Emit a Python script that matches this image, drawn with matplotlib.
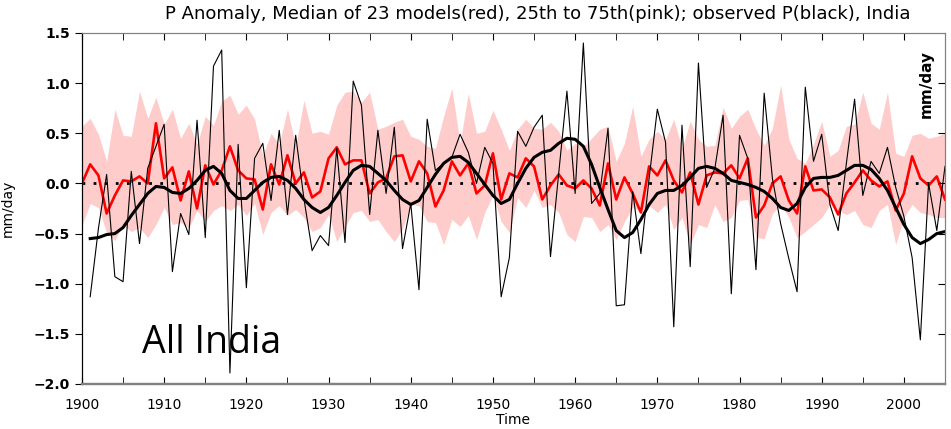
import numpy as np
import matplotlib.pyplot as plt

# anni
anni_modelli = np.arange(1900, 2006)
anni_oss = np.arange(1901, 2006)

# mediana dei 23 modelli (rosso)
mediana = [0.0, 0.19, 0.08, -0.3, -0.12, 0.03, 0.02, 0.07, 0.0, 0.6,
           0.05, 0.16, -0.17, 0.12, -0.25, 0.18, -0.01, 0.13, 0.37, 0.13,
           0.05, 0.04, -0.26, 0.19, -0.01, 0.28, 0.0, 0.11, -0.14, -0.08,
           0.25, 0.36, 0.19, 0.23, 0.23, -0.1, 0.01, 0.05, 0.27, 0.28,
           0.02, 0.22, 0.1, -0.23, -0.07, 0.22, 0.08, 0.2, -0.1, -0.02,
           0.3, -0.16, 0.1, 0.06, 0.25, 0.17, -0.16, -0.02, 0.09, -0.02,
           -0.05, 0.03, -0.05, -0.22, 0.2, -0.16, 0.06, -0.1, -0.29, 0.17,
           0.08, 0.23, 0.03, -0.09, 0.11, -0.21, 0.08, 0.11, 0.1, 0.18,
           0.05, 0.25, -0.34, -0.22, 0.0, 0.07, -0.17, -0.3, 0.17, -0.07,
           -0.06, -0.14, -0.31, -0.1, 0.01, 0.13, 0.03, -0.03, 0.02, -0.27,
           -0.1, 0.27, 0.05, -0.02, 0.07, -0.16]

# 75esimo percentile (bordo superiore rosa)
p75 = [0.57, 0.65, 0.49, 0.22, 0.74, 0.48, 0.47, 0.92, 0.65, 0.86,
       0.59, 0.74, 0.45, 0.6, 0.39, 0.67, 0.58, 0.82, 0.88, 0.69,
       0.78, 0.64, 0.28, 0.5, 0.39, 0.74, 0.37, 0.83, 0.5, 0.52,
       0.49, 0.78, 0.91, 0.92, 0.81, 0.91, 0.54, 0.57, 0.61, 0.64,
       0.47, 0.44, 0.37, 0.35, 0.67, 0.95, 0.4, 0.9, 0.5, 0.52,
       0.73, 0.54, 0.33, 0.54, 0.64, 0.55, 0.54, 0.61, 0.52, 0.33,
       0.4, 0.37, 0.45, 0.54, 0.57, 0.22, 0.4, 0.77, 0.27, 0.44,
       0.52, 0.44, 0.64, 0.35, 0.62, 0.44, 0.37, 0.38, 0.76, 0.55,
       0.67, 0.74, 0.54, 0.38, 0.55, 0.98, 0.44, 0.25, 0.2, 0.39,
       0.62, 0.27, 0.33, 0.57, 0.59, 0.91, 0.6, 0.54, 0.91, 0.3,
       0.27, 0.48, 0.5, 0.45, 0.47, 0.5]

# 25esimo percentile (bordo inferiore rosa)
p25 = [-0.42, -0.2, -0.24, -0.49, -0.57, -0.41, -0.48, -0.44, -0.54, -0.41,
       -0.24, -0.41, -0.39, -0.44, -0.27, -0.38, -0.27, -0.22, -0.27, -0.21,
       -0.32, -0.2, -0.51, -0.29, -0.22, -0.32, -0.26, -0.34, -0.48, -0.44,
       -0.31, -0.58, -0.43, -0.29, -0.27, -0.38, -0.36, -0.48, -0.58, -0.45,
       -0.21, -0.22, -0.38, -0.39, -0.61, -0.36, -0.43, -0.32, -0.56, -0.29,
       -0.12, -0.38, -0.49, -0.14, -0.24, -0.07, -0.24, -0.21, -0.29, -0.51,
       -0.58, -0.33, -0.34, -0.48, -0.41, -0.56, -0.38, -0.24, -0.27, -0.22,
       -0.29, -0.21, -0.46, -0.34, -0.61, -0.41, -0.44, -0.21, -0.38, -0.34,
       -0.17, -0.16, -0.54, -0.55, -0.3, -0.21, -0.34, -0.54, -0.48, -0.41,
       -0.34, -0.21, -0.27, -0.31, -0.27, -0.41, -0.44, -0.27, -0.21, -0.61,
       -0.34, -0.21, -0.29, -0.31, -0.34, -0.34]

# P osservata (nero sottile)
osservata = [-1.13, -0.45, 0.09, -0.93, -0.98, 0.12, -0.6, 0.15, 0.37, 0.59,
             -0.88, -0.3, -0.51, 0.63, -0.54, 1.17, 1.33, -1.89, 0.39, -1.04,
             0.25, 0.4, -0.17, 0.53, -0.31, 0.48, -0.15, -0.67, -0.52, -0.62,
             0.35, -0.59, 1.02, 0.78, -0.31, 0.53, -0.1, 0.56, -0.65, -0.2,
             -1.06, 0.64, 0.13, 0.2, 0.26, 0.49, 0.31, 0.0, 0.36, 0.2,
             -1.13, -0.74, 0.52, 0.37, 0.56, 0.68, -0.73, 0.1, 0.92, -0.1,
             1.4, -0.2, -0.1, 0.55, -1.22, -1.21, -0.08, -0.7, 0.05, 0.74,
             0.41, -1.43, 0.58, -0.83, 1.2, -0.04, 0.15, 0.68, -1.1, 0.48,
             0.25, -0.86, 0.9, 0.05, -0.4, -0.75, -1.08, 0.96, 0.22, 0.49,
             -0.21, -0.47, 0.2, 0.84, -0.12, 0.22, 0.1, 0.36, -0.04, -0.33,
             -0.74, -1.56, 0.0, -0.47, 0.17]

# P osservata smussata (nero spesso)
smussata = [-0.55, -0.54, -0.51, -0.5, -0.44, -0.32, -0.21, -0.1, -0.03, -0.04,
            -0.09, -0.1, -0.05, 0.03, 0.13, 0.17, 0.1, -0.07, -0.15, -0.15,
            -0.07, 0.01, 0.06, 0.07, 0.03, -0.05, -0.16, -0.24, -0.29, -0.24,
            -0.12, 0.01, 0.13, 0.18, 0.17, 0.1, 0.03, -0.07, -0.16, -0.21,
            -0.17, -0.04, 0.09, 0.2, 0.26, 0.27, 0.21, 0.1, -0.01, -0.12,
            -0.2, -0.16, 0.0, 0.15, 0.26, 0.31, 0.33, 0.4, 0.45, 0.44,
            0.37, 0.19, -0.04, -0.26, -0.47, -0.54, -0.49, -0.36, -0.21, -0.1,
            -0.07, -0.07, -0.02, 0.06, 0.15, 0.17, 0.15, 0.1, 0.03, 0.01,
            -0.01, -0.04, -0.08, -0.15, -0.24, -0.27, -0.2, -0.04, 0.05, 0.06,
            0.06, 0.08, 0.13, 0.18, 0.18, 0.14, 0.05, -0.07, -0.24, -0.41,
            -0.54, -0.6, -0.56, -0.5, -0.48]

fig = plt.figure(figsize=(9.51, 4.29), dpi=100)
ax = fig.add_axes([0.0862, 0.1049, 0.9075, 0.8182])

ax.fill_between(anni_modelli, p25, p75, color="#ffcccc", linewidth=0)
ax.axhline(0, color="black", linestyle=(0, (1, 3)), linewidth=2)
ax.plot(anni_modelli, mediana, color="red", linewidth=1.9)
ax.plot(anni_oss, osservata, color="black", linewidth=0.8)
ax.plot(anni_oss, smussata, color="black", linewidth=2.2)

ax.set_xlim(1900, 2005)
ax.set_ylim(-2.0, 1.5)
ax.set_xticks(np.arange(1900, 2001, 10))
ax.set_xticks(np.arange(1900, 2006, 5), minor=True)
ax.set_yticks(np.arange(-2.0, 1.51, 0.5))
ax.set_yticklabels([f"{v:.1f}".replace("-", "\u2212") for v in np.arange(-2.0, 1.51, 0.5)],
                   fontweight="bold")
ax.tick_params(axis="x", which="both", direction="in", top=True, length=5,
               labelsize=10, pad=10)
ax.tick_params(axis="y", direction="out", length=5, labelsize=10, right=False)

# tacche interne sul lato destro
ax_dx = ax.twinx()
ax_dx.set_ylim(-2.0, 1.5)
ax_dx.set_yticks(np.arange(-1.5, 1.01, 0.5))
ax_dx.tick_params(axis="y", direction="in", length=5, labelright=False)
ax_dx.set_xlim(1900, 2005)

for a in (ax, ax_dx):
    a.spines["bottom"].set_color("gray")
    a.spines["bottom"].set_linewidth(1.6)
    a.spines["top"].set_color("gray")
    a.spines["right"].set_color("gray")

ax.set_xlabel("Time", fontsize=10, labelpad=1)
ax.set_ylabel("mm/day", fontsize=10, labelpad=14)
ax.text(0.978, 0.855, "mm/day", transform=ax.transAxes, rotation=90,
        fontsize=11, fontweight="bold", ha="center", va="center")
ax.text(0.0695, 0.088, "All India", transform=ax.transAxes, fontsize=27,
        family="Open Sans", va="baseline")

fig.text(0.565, 0.968,
         "P Anomaly, Median of 23 models(red), 25th to 75th(pink); observed P(black), India",
         ha="center", va="center", fontsize=13)

fig.savefig("out.png", dpi=100)
